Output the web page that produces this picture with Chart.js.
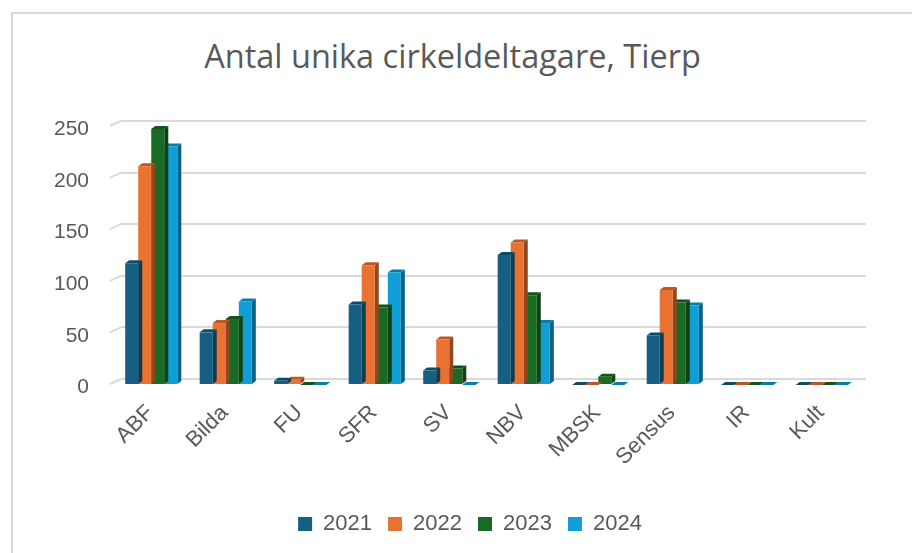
<!DOCTYPE html>
<html>
<head>
<meta charset="utf-8">
<script src="https://cdn.jsdelivr.net/npm/chart.js@4.4.1/dist/chart.umd.min.js"></script>
<style>
  body { margin: 0; overflow: hidden; background: #fff; }
  #frame { position: absolute; left: 11px; top: 12px; width: 1000px; height: 700px; border: 2px solid #d9d9d9; }
  #title { position: absolute; left: 0; width: 905px; top: 36px; text-align: center;
           font-family: "Open Sans", sans-serif; font-size: 32.5px; line-height: 40px; color: #595959; }
  #wrap { position: absolute; left: 0; top: 0; width: 912px; height: 553px; }
</style>
</head>
<body>
<div id="frame"></div>
<div id="title">Antal unika cirkeldeltagare, Tierp</div>
<div id="wrap"><canvas id="chart" width="912" height="553"></canvas></div>
<script>
var categories = ["ABF", "Bilda", "FU", "SFR", "SV", "NBV", "MBSK", "Sensus", "IR", "Kult"];
var years = ["2021", "2022", "2023", "2024"];
var values2021 = [118, 51, 4, 78, 14, 126, 0, 48, 0, 0];
var values2022 = [212, 60, 5, 116, 44, 138, 0, 92, 0, 0];
var values2023 = [248, 64, 0, 75, 16, 87, 8, 80, 0, 0];
var values2024 = [231, 81, 0, 109, 0, 60, 0, 77, 0, 0];
var yMax = 250, yStep = 50;

var colors = ['#156082', '#E97132', '#196B24', '#0F9ED5'];
var grey = '#595959';

// depth of the bars and distance from the back wall
var DX = 4, DY = 3, WX = 3, WY = 3;

function shade(hex, f) {
    var n = parseInt(hex.slice(1), 16);
    var r = Math.round(((n >> 16) & 255) * f);
    var g = Math.round(((n >> 8) & 255) * f);
    var b = Math.round((n & 255) * f);
    return 'rgb(' + r + ',' + g + ',' + b + ')';
}

function poly(ctx, pts, fill) {
    ctx.beginPath();
    ctx.moveTo(pts[0][0], pts[0][1]);
    for (var i = 1; i < pts.length; i++) ctx.lineTo(pts[i][0], pts[i][1]);
    ctx.closePath();
    ctx.fillStyle = fill;
    ctx.fill();
}

var bars3d = {
    id: 'bars3d',
    beforeDatasetsDraw: function (chart) {
        // slanted side-wall part of the grid lines + value labels at the front edge
        var ctx = chart.ctx, y = chart.scales.y, left = chart.chartArea.left;
        ctx.save();
        ctx.strokeStyle = '#d9d9d9';
        ctx.lineWidth = 2;
        ctx.fillStyle = grey;
        ctx.font = '21px "Liberation Sans"';
        ctx.textAlign = 'right';
        ctx.textBaseline = 'middle';
        y.ticks.forEach(function (t) {
            var py = y.getPixelForValue(t.value);
            ctx.beginPath();
            ctx.moveTo(left - 11, py + 5);
            ctx.lineTo(left, py);
            ctx.stroke();
            ctx.fillText(t.label, left - 32, py + 8.5);
        });
        ctx.restore();
    },
    beforeDatasetDraw: function (chart, args) {
        var ctx = chart.ctx;
        var base = colors[args.index];
        ctx.save();
        args.meta.data.forEach(function (el) {
            var p = el.getProps(['x', 'y', 'base', 'width'], true);
            var l = p.x - p.width / 2 - WX, r = p.x + p.width / 2 - WX;
            var t = p.y + WY, b = p.base + WY;
            var fl = l - DX, fr = r - DX, ft = t + DY, fb = b + DY;
            poly(ctx, [[fr, ft], [r, t], [r, b], [fr, fb]], shade(base, 0.62));
            poly(ctx, [[fl, ft], [fr, ft], [r, t], [l, t]], shade(base, 0.78));
        });
        ctx.translate(-(WX + DX), WY + DY);
    },
    afterDatasetDraw: function (chart) {
        chart.ctx.restore();
    }
};

var datasets = [values2021, values2022, values2023, values2024].map(function (v, i) {
    return {
        label: years[i],
        data: v,
        backgroundColor: colors[i],
        borderWidth: 0,
        categoryPercentage: 0.7,
        barPercentage: 1.0
    };
});

new Chart(document.getElementById('chart').getContext('2d'), {
    type: 'bar',
    data: { labels: categories, datasets: datasets },
    plugins: [bars3d],
    options: {
        responsive: false,
        animation: false,
        devicePixelRatio: 1,
        layout: { padding: { left: 74, right: 46, top: 121, bottom: 8 } },
        plugins: {
            title: { display: false },
            tooltip: { enabled: false },
            legend: {
                position: 'bottom',
                labels: {
                    boxWidth: 14,
                    boxHeight: 14,
                    padding: 16,
                    color: grey,
                    font: { family: 'Liberation Sans', size: 22 }
                }
            }
        },
        scales: {
            x: {
                grid: { display: false },
                border: { display: false },
                ticks: {
                    autoSkip: false,
                    minRotation: 45,
                    maxRotation: 45,
                    padding: 13,
                    labelOffset: -8,
                    color: grey,
                    font: { family: 'Liberation Sans', size: 22 }
                },
                afterFit: function (s) { s.height = 118; }
            },
            y: {
                min: 0,
                max: yMax,
                border: { display: false },
                grid: { color: '#d9d9d9', lineWidth: 2, drawTicks: false },
                ticks: { stepSize: yStep, display: false },
                afterFit: function (s) { s.width = 47; }
            }
        }
    }
});
</script>
</body>
</html>
